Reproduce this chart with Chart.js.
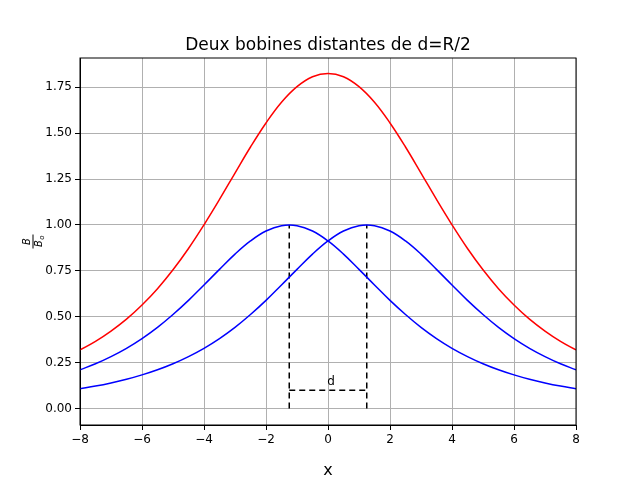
<!DOCTYPE html>
<html>
<head>
<meta charset="utf-8">
<script src="https://cdn.jsdelivr.net/npm/chart.js@4/dist/chart.umd.min.js"></script>
<style>body{margin:0;background:#fff}</style>
</head>
<body>
<canvas id="c" width="640" height="480"></canvas>
<script>
// sampled positions along the axis
const xs = [-8,-7.5,-7,-6.5,-6,-5.5,-5,-4.5,-4,-3.5,-3,-2.5,-2,-1.5,-1,-0.5,0,0.5,1,1.5,2,2.5,3,3.5,4,4.5,5,5.5,6,6.5,7,7.5,8];
// left coil (peak near x=-1.25)
const coilLeft = [0.211,0.244,0.283,0.328,0.381,0.442,0.512,0.589,0.673,0.758,0.841,0.913,0.967,0.996,0.996,0.967,0.913,0.841,0.758,0.673,0.589,0.512,0.442,0.381,0.328,0.283,0.244,0.211,0.183,0.159,0.139,0.122,0.108];
// right coil (peak near x=1.25)
const coilRight = [0.108,0.122,0.139,0.159,0.183,0.211,0.244,0.283,0.328,0.381,0.442,0.512,0.589,0.673,0.758,0.841,0.913,0.967,0.996,0.996,0.967,0.913,0.841,0.758,0.673,0.589,0.512,0.442,0.381,0.328,0.283,0.244,0.211];
// total field
const total = [0.319,0.366,0.422,0.487,0.564,0.653,0.756,0.872,1.001,1.139,1.283,1.425,1.556,1.669,1.754,1.808,1.826,1.808,1.754,1.669,1.556,1.425,1.283,1.139,1.001,0.872,0.756,0.653,0.564,0.487,0.422,0.366,0.319];
// dashed marker showing the distance d
const markerX = [-1.25,-1.25,1.25,1.25];
const markerY = [1.0,0.1,0.1,1.0];
const markerBottom = 0;

const pts = ys => xs.map((x, i) => ({x: x, y: ys[i]}));
const line = (data, color, extra) => Object.assign({
    data: data, borderColor: color, borderWidth: 1.5, pointRadius: 0,
    showLine: true, tension: 0.4, fill: false
}, extra || {});

const marker = [
    {x: markerX[0], y: markerBottom}, {x: markerX[0], y: markerY[0]}, {x: NaN, y: NaN},
    {x: markerX[1], y: markerY[1]}, {x: markerX[2], y: markerY[2]}, {x: NaN, y: NaN},
    {x: markerX[3], y: markerBottom}, {x: markerX[3], y: markerY[3]}
];

const decor = {
    id: 'decor',
    afterDraw(chart) {
        const {ctx, chartArea: a, scales} = chart;
        ctx.save();
        ctx.strokeStyle = '#000';
        ctx.lineWidth = 1;
        ctx.strokeRect(a.left, a.top, a.right - a.left, a.bottom - a.top);
        ctx.fillStyle = '#000';
        ctx.textAlign = 'center';
        ctx.textBaseline = 'alphabetic';
        ctx.font = '17px "DejaVu Sans"';
        ctx.fillText('Deux bobines distantes de d=R/2', (a.left + a.right) / 2, 50);
        ctx.font = '12px "DejaVu Sans"';
        ctx.fillText('d', scales.x.getPixelForValue(0.1), scales.y.getPixelForValue(0.13));
        // y label as a fraction
        ctx.translate(33, (a.top + a.bottom) / 2);
        ctx.rotate(-Math.PI / 2);
        ctx.font = 'italic 10px "DejaVu Sans"';
        ctx.fillText('B', 0, -3);
        ctx.fillText('B', -2, 9);
        ctx.font = 'italic 7px "DejaVu Sans"';
        ctx.fillText('o', 4, 11);
        ctx.beginPath();
        ctx.moveTo(-7, 0); ctx.lineTo(7, 0); ctx.stroke();
        ctx.restore();
    }
};

new Chart(document.getElementById('c'), {
    type: 'scatter',
    data: {
        datasets: [
            line(pts(total), '#ff0000'),
            line(pts(coilLeft), '#0000ff'),
            line(pts(coilRight), '#0000ff'),
            line(marker, '#000000', {borderDash: [6, 4], tension: 0, spanGaps: false})
        ]
    },
    options: {
        responsive: false, animation: false,
        layout: {padding: {top: 58, right: 64}},
        plugins: {legend: {display: false}, tooltip: {enabled: false}},
        scales: {
            x: {
                min: -8, max: 8,
                ticks: {stepSize: 2, color: '#000', font: {size: 12, family: 'DejaVu Sans'},
                        callback: v => String(v).replace('-', '\u2212')},
                grid: {color: '#b0b0b0', tickColor: '#000', tickLength: 5},
                border: {color: '#000'},
                title: {display: true, text: 'x', color: '#000', font: {size: 16, family: 'DejaVu Sans'}, padding: 0},
                afterFit: s => { s.height = 55; }
            },
            y: {
                min: -0.09, max: 1.91,
                afterBuildTicks: s => { s.ticks = [0,0.25,0.5,0.75,1,1.25,1.5,1.75].map(v => ({value: v})); },
                ticks: {color: '#000', font: {size: 12, family: 'DejaVu Sans'}, callback: v => v.toFixed(2)},
                grid: {color: '#b0b0b0', tickColor: '#000', tickLength: 5},
                border: {color: '#000'},
                afterFit: s => { s.width = 80; }
            }
        }
    },
    plugins: [decor]
});
</script>
</body>
</html>
